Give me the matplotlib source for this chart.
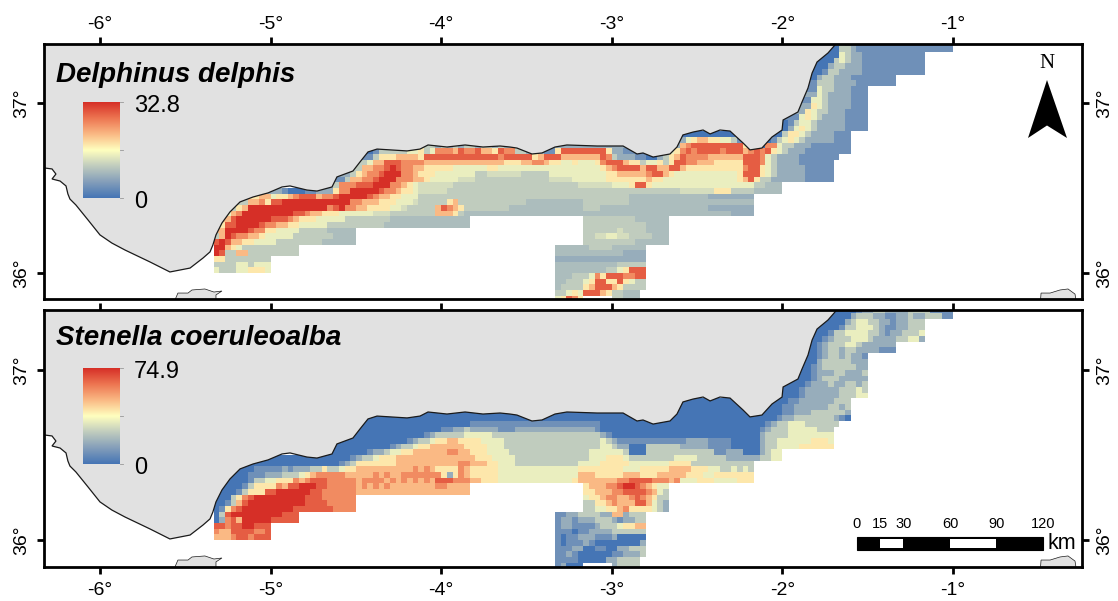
import numpy as np
import matplotlib
matplotlib.use('Agg')
import matplotlib.pyplot as plt
from matplotlib.colors import LinearSegmentedColormap
from matplotlib.patches import Polygon, Rectangle

plt.rcParams['font.family'] = ['Liberation Sans', 'DejaVu Sans']

# Density maps are on a 2 arc minute grid, read off the picture as levels 0-9
# a = 2.5, b = 3.5, . = no data
species = ['Delphinus delphis', 'Stenella coeruleoalba']
max_values = [32.8, 74.9]

# Rows run north to south, row k covers lat 36 + k/30
main_k = list(range(40, 9, -1))
main_start = [110, 109, 108, 107, 106, 106, 105, 105, 105, 105, 104, 104, 103, 102, 100, 100,
              84, 82, 38, 27, 27, 26, 25, 23, 22, 20, 10, 7, 4, 3, 2]
main_end = [130, 130, 125, 125, 125, 125, 120, 120, 115, 115, 115, 115, 115, 115, 115, 115,
            112, 112, 112, 112, 110, 109, 109, 109, 109, 100, 100, 95, 95, 95, 95]
west_k = list(range(9, -1, -1))
west_start = [2, 1, 1, 0, 0, 0, 0, 0, 0, 0]
west_end = [45, 45, 25, 25, 25, 15, 15, 10, 10, 10]
south_k = list(range(9, -6, -1))
south_start = [65, 65, 65, 65, 65, 60, 60, 60, 60, 60, 60, 60, 60, 60, 60]
south_end = [80, 80, 80, 80, 80, 76, 76, 76, 76, 76, 76, 76, 76, 75, 75]

delphinus_main = [
    "3221111111 1111111111",
    "0332111111 1111111111 1",
    "0043221111 1111111",
    "0034322111 11111111",
    "0023322211 111111111",
    "0133222211 111111111",
    "0233222111 11111",
    "1333222211 11111",
    "1433222111",
    "2432222111",
    "14432222111",
    "25432222111",
    "2543322211 11",
    "1454322221 111",
    "0134432222 21111",
    "0245432222 21111",
    "0000000000 00000 0355432222111",
    "245665544310 0000 13454322222111",
    "3232323323323 2222222222222222222222222222222 678888888885 1107 74332221111111",
    "0133333445 3477768778 665877 3322211 5 88888888 5 221100 0000 45 78788887888 67878 54322211111111",
    "1355566665 8888888888888 788888 56 888 6666666 87 3222 1100 2356 87777666666 8887 4322221111111",
    "34 66 888 77776 66666666666 6655566 77 655 4454445 7 888 655 3 44 53 58 87766655555 8887 432222111111",
    "3 66 77 898 776 65555 54444445544 4444444444444444 567 8888 6 88 66 88 65555555555 7885 432222211111",
    "235 6778 999 7765 55444444433bbb bbb33333444444444 455 66666 788 65 444444444445 8885 432222211111",
    "136 677 8999 777 6654 4444bbb33333 33333333bbbb44444 4555 5555 655 4444444444444 5685 3322222211111",
    "23 777 888 999 77654 bbbbbb333333333 3333333333333bbbbbb 444 5885 44444444444 44444 4433aaa",
    "2210001122 25 77 99999 877 655 4bbbbb33333333333333 33333333333333333333 3333333bbbbbb 555 3333aaaaa",
    "566 45 5678 88 6 77 89 9999 876 655 4443 33333333333333333333 3333333333333333aaaa aaaaaaaaaa2222222222",
    "33 66 75 88 999999999999 77 666 555 444b333 335633 3333333333aaaaaaaaaa 33333333aaaaaaaaaaa aaaaaaaaaaa2222222222",
    "35 6 99999999999999 789 77 66 5555 44b33333 68765 3 3333333aaaaaaaaaaaaa 333aaaaaaaaaaaaa aaaaaa22222222",
    "467 999999999 887 66 555 444444bbb 33333333 66653 a aaaaaaaaaaaaaaaaaaaa aaaaaaaaaaaaaaaaaaaa aaaaaa2222",
]
delphinus_west = [
    "68 999999 888 7 6 555 44444 33333333aaaaaaaaaaaaaa",
    "5 88 9999 877 66 55 44444 3333333333aaaaaaaaaaaaaaa",
    "6 9999 8 77 55 4444 33333aaaaa",
    "3698 77 66 5 44444 3333333aaaa",
    "898 66 55 4444 33333333aaaaaa",
    "99 6 5 4 3333333333",
    "98 3 3 6 6 333333333",
    "5533333333",
    "3333443444",
    "4333445554",
]
delphinus_south = [
    "333333333aaaaaa",
    "33333333333aaaa",
    "333333b3333aaaa",
    "33bb44bb3333aaa",
    "333333333aaaaaa",
    "aaaaaa3333aaaaaa",
    "aaaaaaaaaaaa2222",
    "2222222222222222",
    "aaaaaaaaaaa33333",
    "aaaaaaaaa3 3 45 888",
    "aaa333 47 5 888 77 88",
    "aa3334 588 55 8 5 433",
    "a3333 5 6 888 6 5 3333",
    "33454 8886 5 33aaa",
    "45875 ..... 33aaa",
]

stenella_main = [
    "0001223322 2233331111",
    "0002333221 1223223331 1",
    "0002344332 2122 33 3",
    "000133444321122333",
    "0013344443321223334",
    "0123334443222233442",
    "012333443222222",
    "012332332222111",
    "0123323221",
    "0233333222",
    "01233333322",
    "01222332223",
    "001233322222",
    "0012223223323",
    "000122222233343",
    "000122222233344",
    "0000000000 00000 0011222222333",
    "000000000000 0000 00112222223323",
    "00000000000000000000000000000000000000000000 000000000000 0000 00112223333332",
    "00000000000000000000000000000000000000000000000000000000000000000000000 01223333333210",
    "000000000000000000 11111111111111111111111 00000000000000000000000000000 1 233444333333",
    "00000000000000 11223 22222 111222 22222222222 1 0000000000000000000000000000 12 33344444333",
    "000000000000 12333334 44443333 333333333333333 210 0000000000000000000000000 23 33344444444",
    "00000000000 12334556655 5544443 3333333333333333 432 111111111 11122221111 00000 2 3 34444445554",
    "000000000 12334556666665 555444 33333333333333333 443 22000 3333332222 2111100 000 23 34444555555",
    "0000000 122344556666667766 55544 443333333333333344 44443 000 333333333333 11 222 000 2344",
    "00000000000000 123345556666666666666 65554 444333333333333344 45554 3333333344443 333322222 23344",
    "000000000000000 12355555556666666666677 66655 44433333333333 444455555 4444444 5555 33333333333",
    "000111 112122233 5 33455 66666666667676 555576 55555 44444444444444 5 5555555 44455555 6666 555 44334343",
    "000111 2223334 567777766 66676766777777 752576 55555 44444444444444 666 555556 66555 666665 5544 5555555",
    "000013 34455 5767 888 7777767777676767676 888777 66555 44444444444445 666666677 888877 767 444 555 4444555",
]
stenella_west = [
    "000 13555576 8899988 7777767676766666666776666",
    "000 1355588 999999 88 777777 66666666666666666666",
    "00 357 8999999999 888 777777",
    "001 368 999999999988 8877777",
    "01578 999999999 8888888 7777",
    "038 999999999 888",
    "02786 99999 88888",
    "8878899888",
    "7668888778",
    "6667887888",
]
stenella_south = [
    "566677899876544",
    "556667788887643",
    "455677667876533",
    "335567666886432",
    "334455675555432",
    "1122333322662333",
    "1221222333212233",
    "1221111233345566",
    "1110112222333333",
    "1011222111200000",
    "1011121000000002",
    "1112200110022333",
    "1121000000112223",
    "111100000223333",
    "12000 ..... 23333",
]

# Iberian coast and the two bits of Africa, lon / lat
coast_lon = [-6.4, -6.328, -6.281, -6.258, -6.281, -6.234, -6.199, -6.188, -6.176, -6.141, -6.070, -6.0, -5.930, -5.853,
             -5.707, -5.590, -5.472, -5.396, -5.355, -5.338, -5.320, -5.285, -5.238, -5.179, -5.103,
             -5.015, -4.933, -4.886, -4.787, -4.728, -4.640, -4.611, -4.517, -4.476, -4.429, -4.376,
             -4.200, -4.124, -4.077, -3.966, -3.860, -3.755, -3.655, -3.597, -3.556, -3.468, -3.409,
             -3.333, -3.263, -3.087, -2.934, -2.852, -2.817, -2.758, -2.659, -2.618, -2.583, -2.524,
             -2.465, -2.424, -2.366, -2.307, -2.231, -2.190, -2.120, -2.061, -2.002, -1.996, -1.909,
             -1.885, -1.850, -1.826, -1.797, -1.733, -1.692, -1.674, -6.4]
coast_lat = [36.618, 36.618, 36.612, 36.582, 36.553, 36.541, 36.512, 36.465, 36.435, 36.400, 36.312, 36.224, 36.176, 36.135,
             36.065, 36.006, 36.029, 36.088, 36.124, 36.165, 36.224, 36.294, 36.359, 36.418, 36.447,
             36.471, 36.506, 36.512, 36.488, 36.482, 36.506, 36.565, 36.600, 36.653, 36.712, 36.729,
             36.718, 36.729, 36.753, 36.741, 36.753, 36.741, 36.747, 36.741, 36.735, 36.700, 36.706,
             36.741, 36.753, 36.747, 36.747, 36.700, 36.706, 36.682, 36.700, 36.741, 36.812, 36.829,
             36.841, 36.818, 36.841, 36.835, 36.765, 36.724, 36.735, 36.800, 36.841, 36.900, 36.947,
             37.006, 37.088, 37.176, 37.241, 37.294, 37.341, 37.371, 37.371]
africa_west_lon = [-5.578, -5.543, -5.484, -5.461, -5.385, -5.332, -5.285, -5.320, -5.320]
africa_west_lat = [35.80, 35.882, 35.882, 35.900, 35.906, 35.888, 35.894, 35.871, 35.80]
africa_east_lon = [-0.490, -0.484, -0.431, -0.373, -0.326, -0.285, -0.273]
africa_east_lat = [35.80, 35.882, 35.882, 35.900, 35.906, 35.876, 35.80]

lon_ticks = [-6, -5, -4, -3, -2, -1]
lon_labels = ['-6°', '-5°', '-4°', '-3°', '-2°', '-1°']
lat_ticks = [36, 37]
lat_labels = ['36°', '37°']
scale_km = [0, 15, 30, 60, 90, 120]
level_codes = {'a': 2.5, 'b': 3.5}

ramp = LinearSegmentedColormap.from_list(
    'rdylbu', ['#4575b5', '#849eba', '#c0ccbe', '#ffffbf', '#fab984', '#ed7551', '#d62f27'])
LAND = '#e1e1e1'
W, H = 1118, 601


def fx(x):
    return x / W


def fy(y):
    return 1 - y / H


def fill_rows(grid, ks, starts, ends, rows, vmax, under_land=0):
    # put one block of level strings into the grid
    for k, c0, c1, s in zip(ks, starts, ends, rows):
        s = s.replace(' ', '')
        s = s[:c1 - c0].ljust(c1 - c0, s[-1])
        for i, ch in enumerate(s):
            if ch != '.':
                level = level_codes[ch] if ch in level_codes else int(ch)
                grid[40 - k, c0 + i] = level * vmax / 9
        # run the first cell on under the land so no gap shows at the coast
        if under_land:
            grid[40 - k, max(c0 - under_land, 0):c0] = grid[40 - k, c0]


def build_grid(main, west, south, vmax):
    grid = np.full((46, 130), np.nan)
    fill_rows(grid, main_k, main_start, main_end, main, vmax, under_land=4)
    fill_rows(grid, west_k, west_start, west_end, west, vmax, under_land=4)
    fill_rows(grid, south_k, south_start, south_end, south, vmax)
    return grid


lon_edges = -5 - 1 / 3 + np.arange(131) / 30
lat_edges = 36 + np.arange(41, -6, -1) / 30

grids = [build_grid(delphinus_main, delphinus_west, delphinus_south, max_values[0]),
         build_grid(stenella_main, stenella_west, stenella_south, max_values[1])]

fig = plt.figure(figsize=(W / 100, H / 100), dpi=100)
panels = [(44, 299, 37.347, 35.847), (310, 567, 37.353, 35.841)]
title_y = [75, 338]
axes = []

for i, (top, bottom, lat_top, lat_bottom) in enumerate(panels):
    ax = fig.add_axes([fx(44), fy(bottom), fx(1082 - 44), (bottom - top) / H])
    ax.set_xlim(-6.328, -0.244)
    ax.set_ylim(lat_bottom, lat_top)
    ax.pcolormesh(lon_edges, lat_edges, grids[i], cmap=ramp, vmin=0, vmax=max_values[i],
                  shading='flat', linewidth=0, rasterized=True, zorder=1)

    # land goes over the grid, so the coast trims the cells
    ax.add_patch(Polygon(np.column_stack([coast_lon, coast_lat]), facecolor=LAND,
                         edgecolor='#1a1a1a', linewidth=0.9, zorder=2))
    ax.add_patch(Polygon(np.column_stack([africa_west_lon, africa_west_lat]), facecolor=LAND,
                         edgecolor='#1a1a1a', linewidth=0.5, zorder=2))
    ax.add_patch(Polygon(np.column_stack([africa_east_lon, africa_east_lat]), facecolor=LAND,
                         edgecolor='#1a1a1a', linewidth=0.5, zorder=2))

    ax.set_xticks(lon_ticks)
    ax.set_yticks(lat_ticks)
    ax.set_yticklabels(lat_labels)
    ax.set_xticklabels(lon_labels)
    ax.tick_params(axis='both', width=2, length=5, labelsize=14, pad=3)
    ax.tick_params(axis='y', left=True, right=True, labelleft=True, labelright=True)
    if i == 0:
        ax.tick_params(axis='x', top=True, bottom=False, labeltop=True, labelbottom=False)
    else:
        ax.tick_params(axis='x', top=True, bottom=True, labeltop=False, labelbottom=True, pad=6)
    for tick in ax.yaxis.get_major_ticks():
        tick.label1.set_rotation(90)
        tick.label1.set_va('center')
        tick.label2.set_rotation(90)
        tick.label2.set_va('center')
    ax.yaxis.set_tick_params(pad=5)
    for spine in ax.spines.values():
        spine.set_linewidth(2)
        spine.set_zorder(5)
    axes.append(ax)

    # species name and the colour legend
    fig.text(fx(56), fy(title_y[i]), species[i], fontsize=20, fontweight='bold', fontstyle='italic',
             va='center', ha='left')
    bar_top = top + 58
    bar_bottom = bar_top + 96
    cax = fig.add_axes([fx(83), fy(bar_bottom), fx(37), 96 / H], zorder=4)
    cax.imshow(np.linspace(1, 0, 256)[:, None], cmap=ramp, aspect='auto', vmin=0, vmax=1)
    cax.axis('off')
    for y in [bar_top, (bar_top + bar_bottom) / 2, bar_bottom]:
        fig.add_artist(plt.Line2D([fx(120), fx(123)], [fy(y), fy(y)], color='#999999', linewidth=0.6))
    fig.text(fx(134), fy(bar_top + 3.5), str(max_values[i]), fontsize=17, va='center', ha='left')
    fig.text(fx(134), fy(bar_bottom + 4), '0', fontsize=17, va='center', ha='left')

# North arrow
fig.text(fx(1047), fy(63), 'N', fontsize=15, family='Liberation Serif', ha='center', va='center')
fig.add_artist(Polygon([(fx(1047), fy(80)), (fx(1028), fy(138)), (fx(1047), fy(125.5)), (fx(1067), fy(138))],
                       closed=True, facecolor='black', edgecolor='none', transform=fig.transFigure))

# Scale bar
ax2 = axes[1]
km_lon = 1.09 / 120
bar_lon = -1.563
for j in range(len(scale_km) - 1):
    x0 = bar_lon + scale_km[j] * km_lon
    wid = (scale_km[j + 1] - scale_km[j]) * km_lon
    ax2.add_patch(Rectangle((x0, 35.941), wid, 0.077, facecolor='black', edgecolor='black',
                            linewidth=0.8, zorder=3))
    if j % 2 == 1:
        ax2.add_patch(Rectangle((x0, 35.953), wid, 0.053, facecolor='white', edgecolor='none', zorder=4))
for km in scale_km:
    ax2.text(bar_lon + km * km_lon, 36.094, str(km), fontsize=10.5, ha='center', va='center', zorder=4)
ax2.text(-0.363, 35.982, 'km', fontsize=15.5, ha='center', va='center', zorder=4)

fig.savefig('out.png', dpi=100)
